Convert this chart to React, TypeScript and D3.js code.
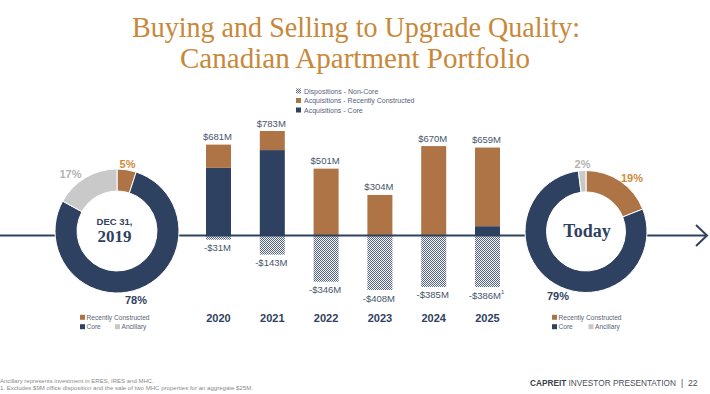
import * as d3 from 'd3';

const years = ['2020', '2021', '2022', '2023', '2024', '2025'];
const core = [507, 640, 0, 0, 0, 70];
const recent = [174, 143, 501, 304, 670, 589];
const dispositions = [-31, -143, -346, -408, -385, -386];
const totalLabels = ['$681M', '$783M', '$501M', '$304M', '$670M', '$659M'];
const dispLabels = ['-$31M', '-$143M', '-$346M', '-$408M', '-$385M', '-$386M'];

const mixKeys = ['Recently Constructed', 'Core', 'Ancillary'];
const mix2019 = [5, 78, 17];
const mixToday = [19, 79, 2];

const NAVY = '#2f4160';
const ORANGE = '#ae7446';
const GREY = '#c9c9c9';
const GOLD = '#c8883a';
const LABEL = '#46556b';
const SANS = '"Liberation Sans", Arial, sans-serif';
const SERIF = '"Liberation Serif", "Times New Roman", serif';

const mixColors = [ORANGE, NAVY, GREY];
const pctColors = ['#d08a3a', NAVY, '#b3b3b3'];

function Donut({ cx, cy, r0, r1, values, labelPos }: {
  cx: number; cy: number; r0: number; r1: number; values: number[];
  labelPos: [number, number][];
}) {
  const pie = d3.pie<number>().sort(null).value(d => d);
  const arc = d3.arc<d3.PieArcDatum<number>>().innerRadius(r0).outerRadius(r1);
  const arcs = pie(values);
  return (
    <g>
      <circle cx={cx} cy={cy} r={r0} fill="#fff" />
      <g transform={`translate(${cx},${cy})`}>
        {arcs.map((a, i) => (
          <path key={i} d={arc(a) || ''} fill={mixColors[i]} stroke="#fff" strokeWidth={1} />
        ))}
      </g>
      {values.map((v, i) => (
        <text key={i} x={labelPos[i][0]} y={labelPos[i][1]} textAnchor="middle" dominantBaseline="central"
          fontFamily={SANS} fontSize={11} fontWeight="bold" fill={pctColors[i]}>{v}%</text>
      ))}
    </g>
  );
}

function MixLegend({ x, y, ax }: { x: number; y: number; ax: number }) {
  const items: [number, number, number][] = [[x, y, 0], [x, y + 9.4, 1], [ax, y + 9.4, 2]];
  return (
    <g fontFamily={SANS} fontSize={6.6} fill="#5a6475">
      {items.map(([ix, iy, k]) => (
        <g key={k}>
          <rect x={ix} y={iy - 2.5} width={5} height={5} fill={mixColors[k]} />
          <text x={ix + 6.5} y={iy} dominantBaseline="central">{mixKeys[k]}</text>
        </g>
      ))}
    </g>
  );
}

export default function App() {
  const x = d3.scalePoint<string>().domain(years).range([218.5, 487.5]);
  const y = d3.scaleLinear().domain([-408, 783]).range([290, 131]);
  const bw = 25;
  const y0 = y(0);

  const topLegend: [string, string][] = [
    ['Dispositions - Non-Core', 'url(#hatch)'],
    ['Acquisitions - Recently Constructed', ORANGE],
    ['Acquisitions - Core', NAVY],
  ];

  return (
    <svg width={710} height={394} style={{ position: 'absolute', left: 0, top: 0, background: '#fff' }}>
      <defs>
        <pattern id="hatch" width={2} height={2} patternUnits="userSpaceOnUse">
          <rect width={2} height={2} fill="#f4f5f7" />
          <rect width={1} height={1} fill="#56647e" />
          <rect x={1} y={1} width={1} height={1} fill="#56647e" />
        </pattern>
      </defs>

      {/* title */}
      <text x={356} y={37} textAnchor="middle" fontFamily={SERIF} fontSize={29} fill={GOLD}
        textLength={448} lengthAdjust="spacingAndGlyphs">Buying and Selling to Upgrade Quality:</text>
      <text x={355} y={68} textAnchor="middle" fontFamily={SERIF} fontSize={29} fill={GOLD}
        textLength={350} lengthAdjust="spacingAndGlyphs">Canadian Apartment Portfolio</text>

      {/* top legend */}
      <g fontFamily={SANS} fontSize={7} fill="#56627a">
        {topLegend.map(([label, fill], i) => (
          <g key={label}>
            <rect x={296} y={91 + i * 9.5 - 2.5} width={5} height={5} fill={fill} />
            <text x={304} y={91 + i * 9.5} dominantBaseline="central">{label}</text>
          </g>
        ))}
      </g>

      {/* bars */}
      {years.map((yr, i) => {
        const cx = x(yr) as number;
        return (
          <g key={yr}>
            {core[i] > 0 && (
              <rect x={cx - bw / 2} y={y(core[i])} width={bw} height={y0 - y(core[i])} fill={NAVY} />
            )}
            <rect x={cx - bw / 2} y={y(core[i] + recent[i])} width={bw}
              height={y(core[i]) - y(core[i] + recent[i])} fill={ORANGE} />
            <rect x={cx - bw / 2} y={y0} width={bw} height={y(dispositions[i]) - y0} fill="url(#hatch)" />
            <text x={cx - 1} y={y(core[i] + recent[i]) - 8} textAnchor="middle" dominantBaseline="central"
              fontFamily={SANS} fontSize={9.5} fill={LABEL}>{totalLabels[i]}</text>
            <text x={cx - 1} y={y(dispositions[i]) + 8} textAnchor="middle" dominantBaseline="central"
              fontFamily={SANS} fontSize={9.5} fill={LABEL}>
              {dispLabels[i]}{i === years.length - 1 && <tspan dy={-3} fontSize={6}>1</tspan>}
            </text>
            <text x={cx} y={317.5} textAnchor="middle" dominantBaseline="central"
              fontFamily={SANS} fontSize={11} fontWeight="bold" fill={NAVY}>{yr}</text>
          </g>
        );
      })}

      {/* timeline arrow */}
      <line x1={0} x2={707} y1={y0} y2={y0} stroke={NAVY} strokeWidth={2} />
      <polyline points={`696,${y0 - 10.5} 707,${y0} 696,${y0 + 10.5}`} fill="none" stroke={NAVY} strokeWidth={2} />

      {/* donuts */}
      <Donut cx={117} cy={231} r0={40} r1={62} values={mix2019}
        labelPos={[[127.5, 164], [136, 300], [70.5, 174]]} />
      <text x={114.5} y={221} textAnchor="middle" dominantBaseline="central" fontFamily={SANS}
        fontSize={9.5} fontWeight="bold" fill={NAVY}>DEC 31,</text>
      <text x={114.5} y={241.5} textAnchor="middle" fontFamily={SERIF} fontSize={17}
        fontWeight="bold" fill={NAVY}>2019</text>
      <MixLegend x={80} y={317.3} ax={115} />

      <Donut cx={586} cy={231.5} r0={39.5} r1={61} values={mixToday}
        labelPos={[[632, 177.5], [558, 296], [582.5, 164]]} />
      <text x={587} y={236.5} textAnchor="middle" fontFamily={SERIF} fontSize={18}
        fontWeight="bold" fill={NAVY}>Today</text>
      <MixLegend x={552} y={317.3} ax={588.5} />

      {/* footer */}
      <g fontFamily={SANS} fontSize={6} fill="#8a8a8a">
        <text x={0} y={381} dominantBaseline="central">Ancillary represents investment in ERES, IRES and MHC.</text>
        <text x={0} y={387.5} dominantBaseline="central" textLength={253} lengthAdjust="spacingAndGlyphs">
          1. Excludes $9M office disposition and the sale of two MHC properties for an aggregate $25M.
        </text>
      </g>
      <g fontFamily={SANS} fontSize={8.6} fill="#4a4f5a">
        <text x={530} y={382.5} dominantBaseline="central" textLength={146} lengthAdjust="spacingAndGlyphs">
          <tspan fontWeight="bold" fill="#3a3f4a">CAPREIT</tspan> INVESTOR PRESENTATION
        </text>
        <text x={681} y={382.5} dominantBaseline="central">|</text>
        <text x={688} y={382.5} dominantBaseline="central">22</text>
      </g>
    </svg>
  );
}
